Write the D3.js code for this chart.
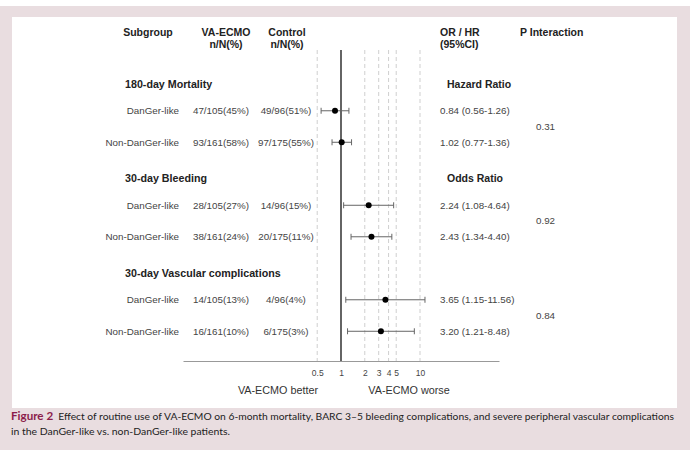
<!DOCTYPE html>
<html>
<head>
<meta charset="utf-8">
<script src="https://d3js.org/d3.v7.min.js"></script>
<style>
  body { margin: 0; background: #fff; }
  svg text { font-family: "Liberation Sans", Arial, sans-serif; }
</style>
</head>
<body>
<div id="chart"></div>
<script>
// forest plot data
const sections = ["180-day Mortality", "30-day Bleeding", "30-day Vascular complications"];
const effectLabels = ["Hazard Ratio", "Odds Ratio", ""];
const pInteraction = ["0.31", "0.92", "0.84"];

const subgroups = ["DanGer-like", "Non-DanGer-like", "DanGer-like", "Non-DanGer-like", "DanGer-like", "Non-DanGer-like"];
const vaEcmo = ["47/105(45%)", "93/161(58%)", "28/105(27%)", "38/161(24%)", "14/105(13%)", "16/161(10%)"];
const control = ["49/96(51%)", "97/175(55%)", "14/96(15%)", "20/175(11%)", "4/96(4%)", "6/175(3%)"];
const estimate = [0.84, 1.02, 2.24, 2.43, 3.65, 3.20];
const lower = [0.56, 0.77, 1.08, 1.34, 1.15, 1.21];
const upper = [1.26, 1.36, 4.64, 4.40, 11.56, 8.48];
const estText = ["0.84 (0.56-1.26)", "1.02 (0.77-1.36)", "2.24 (1.08-4.64)", "2.43 (1.34-4.40)", "3.65 (1.15-11.56)", "3.20 (1.21-8.48)"];

const tickValues = [0.5, 1, 2, 3, 4, 5, 10];
const gridValues = [0.5, 2, 3, 4, 5, 10];

const W = 692, H = 453;
const svg = d3.select("#chart").append("svg")
    .attr("width", W)
    .attr("height", H);

// pink frame + white panel
svg.append("rect").attr("x", 0).attr("y", 6).attr("width", 690).attr("height", 444).attr("fill", "#e9dde0");
svg.append("rect").attr("x", 12).attr("y", 17).attr("width", 665).attr("height", 391).attr("fill", "#fff");

const x = d3.scaleLog().domain([0.01, 100]).range([183, 499]);
// line units: section header at 3k, its rows just below
const y = d3.scaleLinear().domain([0, 8]).range([84, 336]);
const rowIdx = i => Math.floor(i / 2) * 3 + 0.85 + (i % 2);

const plotTop = 50, axisY = 361;

// column headers
const hdr = svg.append("g").attr("font-weight", "bold").attr("font-size", 10.5).attr("fill", "#222");
hdr.append("text").attr("x", 148).attr("y", 36).attr("text-anchor", "middle").text("Subgroup");
hdr.append("text").attr("x", 226).attr("y", 36).attr("text-anchor", "middle").text("VA-ECMO");
hdr.append("text").attr("x", 226).attr("y", 48).attr("text-anchor", "middle").text("n/N(%)");
hdr.append("text").attr("x", 287).attr("y", 36).attr("text-anchor", "middle").text("Control");
hdr.append("text").attr("x", 287).attr("y", 48).attr("text-anchor", "middle").text("n/N(%)");
hdr.append("text").attr("x", 440).attr("y", 36).text("OR / HR");
hdr.append("text").attr("x", 440).attr("y", 48).text("(95%CI)");
hdr.append("text").attr("x", 520).attr("y", 36).text("P Interaction");

// dashed reference lines
svg.selectAll(".grid").data(gridValues).enter().append("line")
    .attr("x1", d => x(d)).attr("x2", d => x(d))
    .attr("y1", plotTop).attr("y2", axisY)
    .attr("stroke", "#cfcfcf").attr("stroke-width", 1)
    .attr("stroke-dasharray", "4,3");

// line of no effect
svg.append("line")
    .attr("x1", x(1)).attr("x2", x(1))
    .attr("y1", plotTop).attr("y2", axisY)
    .attr("stroke", "#111").attr("stroke-width", 1.3);

// section headers
sections.forEach((s, k) => {
    svg.append("text").attr("x", 125).attr("y", y(k * 3)).attr("dy", "0.35em")
        .attr("font-weight", "bold").attr("font-size", 10.7).attr("fill", "#222").text(s);
    if (effectLabels[k]) {
        svg.append("text").attr("x", 447).attr("y", y(k * 3)).attr("dy", "0.35em")
            .attr("font-weight", "bold").attr("font-size", 10.5).attr("fill", "#222").text(effectLabels[k]);
    }
    svg.append("text").attr("x", 536).attr("y", y(k * 3 + 1.35)).attr("dy", "0.35em")
        .attr("font-size", 9.8).attr("fill", "#444").text(pInteraction[k]);
});

// rows
const rows = svg.selectAll(".row").data(subgroups).enter().append("g")
    .attr("class", "row")
    .attr("transform", (d, i) => `translate(0,${y(rowIdx(i))})`);

const txt = (sel, xPos, anchor, fn) => sel.append("text")
    .attr("x", xPos).attr("dy", "0.35em").attr("text-anchor", anchor)
    .attr("font-size", 9.8).attr("fill", "#444").text(fn);

txt(rows, 179, "end", d => d);
txt(rows, 221, "middle", (d, i) => vaEcmo[i]);
txt(rows, 286, "middle", (d, i) => control[i]);
txt(rows, 440, "start", (d, i) => estText[i]);

// CI whiskers
rows.append("line")
    .attr("x1", (d, i) => x(lower[i])).attr("x2", (d, i) => x(upper[i]))
    .attr("stroke", "#666").attr("stroke-width", 1);
rows.append("line")
    .attr("x1", (d, i) => x(lower[i])).attr("x2", (d, i) => x(lower[i]))
    .attr("y1", -3).attr("y2", 3).attr("stroke", "#666");
rows.append("line")
    .attr("x1", (d, i) => x(upper[i])).attr("x2", (d, i) => x(upper[i]))
    .attr("y1", -3).attr("y2", 3).attr("stroke", "#666");
rows.append("circle")
    .attr("cx", (d, i) => x(estimate[i])).attr("r", 3).attr("fill", "#000");

// x axis
const axis = svg.append("g").attr("transform", `translate(0,${axisY})`)
    .call(d3.axisBottom(x).tickValues(tickValues).tickSize(0).tickPadding(9)
        .tickFormat(d3.format("~g")));
axis.select(".domain").attr("stroke", "#999");
axis.selectAll("text").attr("font-size", 8.5).attr("fill", "#444")
    .attr("font-family", "Liberation Sans, Arial, sans-serif");

svg.append("text").attr("x", 278).attr("y", 394).attr("text-anchor", "middle")
    .attr("font-size", 10.8).attr("fill", "#333").text("VA-ECMO better");
svg.append("text").attr("x", 409).attr("y", 394).attr("text-anchor", "middle")
    .attr("font-size", 10.8).attr("fill", "#333").text("VA-ECMO worse");

// caption
const cap = svg.append("g").attr("font-size", 10.2).attr("fill", "#222");
const l1 = cap.append("text").attr("x", 11).attr("y", 420)
    .attr("textLength", 663).attr("lengthAdjust", "spacingAndGlyphs")
    .style("font-family", "Lato, 'Open Sans', sans-serif");
l1.append("tspan").attr("font-weight", "bold").attr("fill", "#8c1d4c").attr("font-size", 11.5).text("Figure 2");
l1.append("tspan").text("\u2002Effect of routine use of VA-ECMO on 6-month mortality, BARC 3\u20135 bleeding complications, and severe peripheral vascular complications");
cap.append("text").attr("x", 11).attr("y", 435)
    .attr("textLength", 219).attr("lengthAdjust", "spacingAndGlyphs")
    .style("font-family", "Lato, 'Open Sans', sans-serif")
    .text("in the DanGer-like vs. non-DanGer-like patients.");
</script>
</body>
</html>
